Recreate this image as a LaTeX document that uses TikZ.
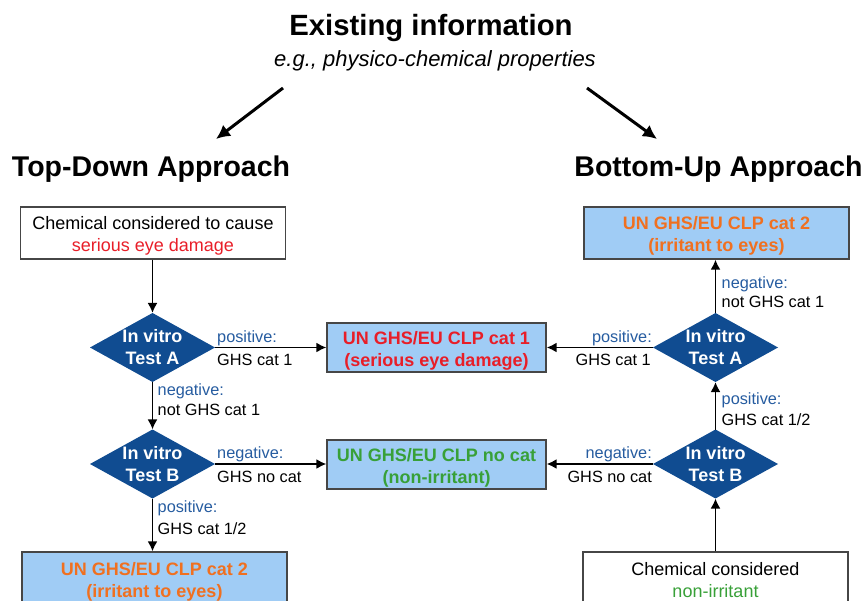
\documentclass[tikz,border=0pt]{standalone}
\usepackage{fontspec}
\setmainfont{Liberation Sans}
\usetikzlibrary{shapes.geometric,arrows.meta,calc}

\definecolor{testblue}{RGB}{16,76,145}
\definecolor{lblblue}{RGB}{38,92,160}
\definecolor{boxblue}{RGB}{160,204,245}
\definecolor{catred}{RGB}{232,30,40}
\definecolor{catorange}{RGB}{240,112,32}
\definecolor{catgreen}{RGB}{56,160,56}
\definecolor{boxline}{RGB}{70,70,70}

\begin{document}
\begin{tikzpicture}[x=1pt,y=-1pt,>={Latex[length=10pt,width=10pt]},
  box/.style={draw=boxline,line width=1.2pt,minimum width=265pt,minimum height=52pt,align=center,inner sep=0pt,text height=38pt,text depth=0pt,font=\fontsize{18}{22}\selectfont},
  catbox/.style={box,fill=boxblue,font=\fontsize{18}{22}\selectfont\bfseries},
  test/.style={diamond,fill=testblue,aspect=1.81,inner sep=0pt,outer sep=0pt,minimum width=125pt,minimum height=69pt,text=white,align=center,font=\fontsize{18}{22}\selectfont\bfseries},
  lbl/.style={inner sep=0pt,font=\fontsize{16.3}{19}\selectfont},
  flow/.style={->,line width=1.9pt},
  bigflow/.style={-{Latex[length=14pt,width=14pt]},line width=3pt},
  heading/.style={inner sep=0pt,font=\fontsize{28.5}{34}\selectfont\bfseries}]

\useasboundingbox (0,0) rectangle (864,601);
\clip (0,0) rectangle (864,601);

\node[heading,font=\fontsize{29.3}{34}\selectfont\bfseries,anchor=base] (exist) at (431,36) {Existing information};
\node[lbl,font=\fontsize{22}{26}\selectfont\itshape,anchor=base] (eg) at (435,67) {e.g., physico-chemical properties};

\node[heading,anchor=base] (td) at (151,177) {Top-Down Approach};
\node[heading,anchor=base] (bu) at (718.5,177) {Bottom-Up Approach};

\coordinate (tdfrom) at (283,88);
\coordinate (tdto) at (216,139);
\coordinate (bufrom) at (587,88);
\coordinate (buto) at (657,139);
\draw[bigflow] (tdfrom) -- (tdto);
\draw[bigflow] (bufrom) -- (buto);


\node[box] (tdstart) at (153,233) {Chemical considered to cause\\\textcolor{catred}{serious eye damage}};
\node[test] (tda) at (152.5,347.5) {In vitro\\Test A};
\node[test] (tdb) at (152.5,464) {In vitro\\Test B};
\node[catbox,text=catorange] (tdcat2) at (154.5,578) {UN GHS/EU CLP cat 2\\(irritant to eyes)};

\node[catbox,text=catred,minimum width=219pt,minimum height=49pt] (cat1) at (436.5,347.5) {UN GHS/EU CLP cat 1\\(serious eye damage)};
\node[catbox,text=catgreen,minimum width=219pt,minimum height=49pt] (nocat) at (436.5,464.5) {UN GHS/EU CLP no cat\\(non-irritant)};

\node[catbox,text=catorange] (bucat2) at (716.5,233) {UN GHS/EU CLP cat 2\\(irritant to eyes)};
\node[test] (bua) at (715.5,347.5) {In vitro\\Test A};
\node[test] (bub) at (715.5,464) {In vitro\\Test B};
\node[box] (bustart) at (715.5,578) {Chemical considered\\\textcolor{catgreen}{non-irritant}};


\draw[flow] (tdstart.south -| tda.north) -- (tda.north);
\draw[flow] (tda) -- (tdb);
\draw[flow] (tdb.south) -- (tdb.south |- tdcat2.north);
\draw[flow] (tda.east) -- (tda.east -| cat1.west);
\draw[flow] (tdb.east) -- (tdb.east -| nocat.west);

\node[lbl,text=lblblue,anchor=base west] (tdapos) at ($(tda.east)+(2,-5)$) {positive:};
\node[lbl,anchor=base west] (tdaposcat) at ($(tda.east)+(2,18)$) {GHS cat 1};
\node[lbl,text=lblblue,anchor=base west] (tdaneg) at ($(tda.south)+(5,13)$) {negative:};
\node[lbl,anchor=base west] (tdanegcat) at ($(tda.south)+(5,33)$) {not GHS cat 1};
\node[lbl,text=lblblue,anchor=base west] (tdbneg) at ($(tdb.east)+(2,-6)$) {negative:};
\node[lbl,anchor=base west] (tdbnegcat) at ($(tdb.east)+(2,18)$) {GHS no cat};
\node[lbl,text=lblblue,anchor=base west] (tdbpos) at ($(tdb.south)+(5,14)$) {positive:};
\node[lbl,anchor=base west] (tdbposcat) at ($(tdb.south)+(5,36)$) {GHS cat 1/2};


\draw[flow] (bustart.north) -- (bub.south);
\draw[flow] (bub) -- (bua);
\draw[flow] (bua.north) -- (bua.north |- bucat2.south);
\draw[flow] (bua.west) -- (bua.west -| cat1.east);
\draw[flow] (bub.west) -- (bub.west -| nocat.east);

\node[lbl,text=lblblue,anchor=base east] (buapos) at ($(bua.west)+(-1,-5)$) {positive:};
\node[lbl,anchor=base east] (buaposcat) at ($(bua.west)+(-2,18)$) {GHS cat 1};
\node[lbl,text=lblblue,anchor=base west] (buaneg) at ($(bua.north)+(6,-24)$) {negative:};
\node[lbl,anchor=base west] (buanegcat) at ($(bua.north)+(6,-5)$) {not GHS cat 1};
\node[lbl,text=lblblue,anchor=base east] (bubneg) at ($(bub.west)+(-1,-6)$) {negative:};
\node[lbl,anchor=base east] (bubnegcat) at ($(bub.west)+(-1,18)$) {GHS no cat};
\node[lbl,text=lblblue,anchor=base west] (bubpos) at ($(bub.north)+(6,-25)$) {positive:};
\node[lbl,anchor=base west] (bubposcat) at ($(bub.north)+(6,-4)$) {GHS cat 1/2};

\end{tikzpicture}
\end{document}
